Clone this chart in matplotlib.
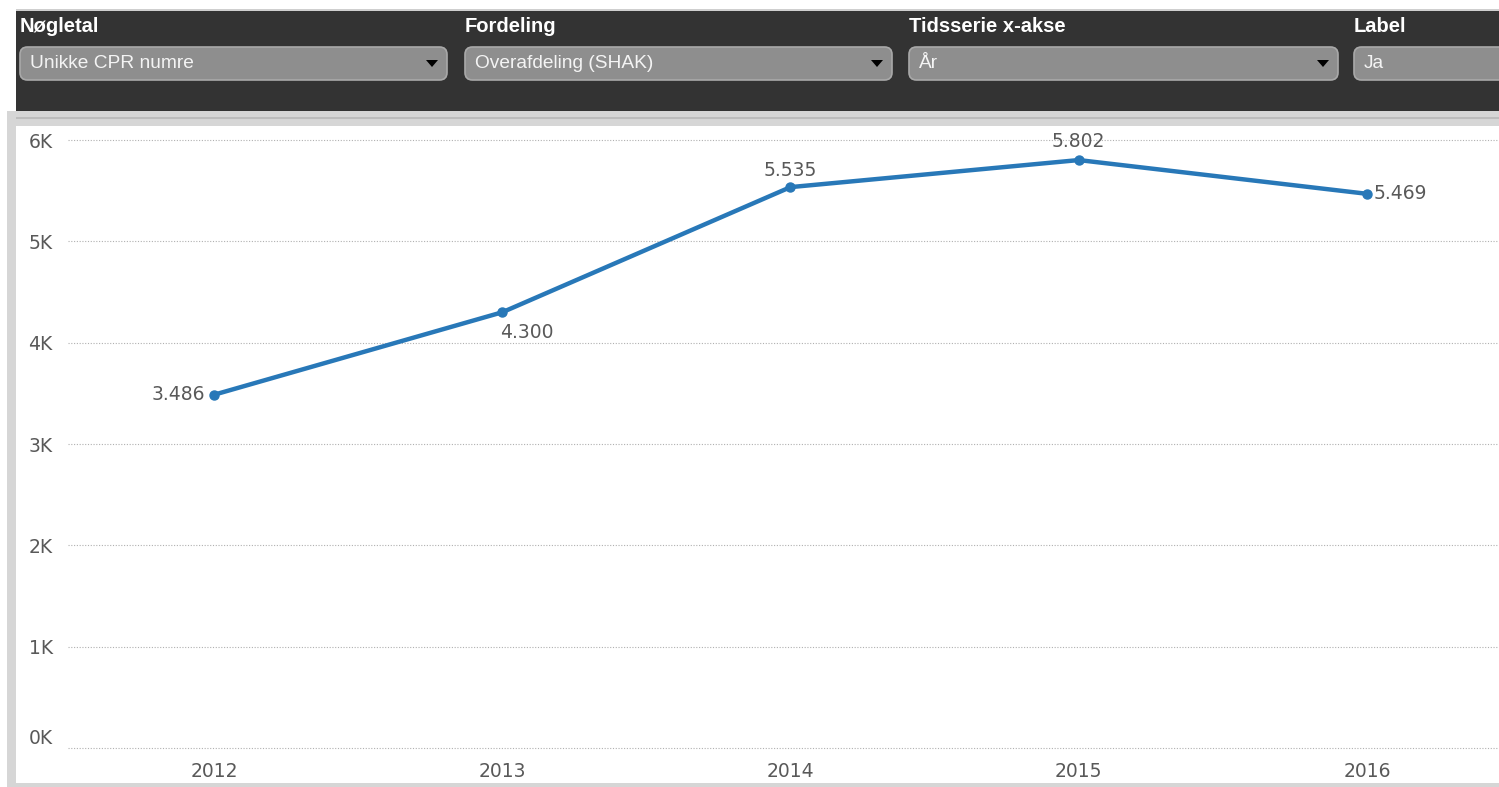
import matplotlib
matplotlib.use("Agg")
import matplotlib.pyplot as plt
from matplotlib.patches import Rectangle, FancyBboxPatch, Polygon
from matplotlib.transforms import ScaledTranslation

# ---- data ----
years = ["2012", "2013", "2014", "2015", "2016"]
values = [3486, 4300, 5535, 5802, 5469]
value_labels = ["3.486", "4.300", "5.535", "5.802", "5.469"]
y_ticks = [0, 1000, 2000, 3000, 4000, 5000, 6000]
y_tick_labels = ["0K", "1K", "2K", "3K", "4K", "5K", "6K"]
filter_titles = ["Nøgletal", "Fordeling", "Tidsserie x-akse", "Label"]
filter_values = ["Unikke CPR numre", "Overafdeling (SHAK)", "År", "Ja"]

W, H = 1499, 787
fig = plt.figure(figsize=(W / 100, H / 100), dpi=100)
fig.patch.set_facecolor("white")


def fx(px):
    return px / W


def fy(py):
    return 1 - py / H


def rect(x0, y0, x1, y1, color, z=0):
    fig.add_artist(Rectangle((fx(x0), fy(y1)), fx(x1) - fx(x0), fy(y0) - fy(y1),
                             transform=fig.transFigure, facecolor=color,
                             edgecolor="none", zorder=z))


# frame / background
rect(7, 111, W, H, "#d6d6d6", 0)
rect(16, 126, W, 783, "white", 1)
rect(16, 117, W, 119, "#bdbdbd", 1)
rect(16, 9, W, 11, "#cfcfcf", 1)
rect(16, 11, W, 111, "#333333", 1)

# filter dropdowns
box_x = [(20, 447), (465, 892), (909, 1338), (1354, 1530)]
for (x0, x1), title, val in zip(box_x, filter_titles, filter_values):
    fig.text(fx(x0), fy(26), title, color="white", fontsize=14.5, fontweight="bold",
             family="Liberation Sans", va="center", ha="left", zorder=3)
    fig.add_artist(FancyBboxPatch((fx(x0), fy(80)), fx(x1) - fx(x0), fy(47) - fy(80),
                                  boxstyle="round,pad=0,rounding_size=0.005",
                                  transform=fig.transFigure, facecolor="#8e8e8e",
                                  edgecolor="#a9a9a9", linewidth=1.2, zorder=2,
                                  mutation_aspect=W / H))
    fig.text(fx(x0 + 10), fy(64), val, color="#f4f4f4", fontsize=13.8,
             family="Liberation Sans", va="center", ha="left", zorder=3)
    if x1 < W:
        cx = x1 - 15
        fig.add_artist(Polygon([(fx(cx - 6), fy(60)), (fx(cx + 6), fy(60)), (fx(cx), fy(67))],
                               closed=True, transform=fig.transFigure,
                               facecolor="black", edgecolor="none", zorder=3))

# chart axes
ax = fig.add_axes([fx(68), fy(748), fx(W) - fx(68), fy(140) - fy(748)], zorder=4)
ax.patch.set_alpha(0)
xs = list(range(len(years)))
ax.plot(xs, values, color="#2878b8", linewidth=3.2, marker="o", markersize=6.5,
        solid_capstyle="round", zorder=5, clip_on=False)
ax.set_xlim(-0.5065, 4.458)
ax.set_ylim(0, 6000)
ax.set_yticks(y_ticks)
ax.set_yticklabels(y_tick_labels)
ax.set_xticks(xs)
ax.set_xticklabels(years)
for s in ax.spines.values():
    s.set_visible(False)
ax.tick_params(axis="both", length=0, labelsize=13.5, labelcolor="#595959")
ax.tick_params(axis="y", pad=11)
ax.tick_params(axis="x", pad=10)
ax.grid(axis="y", color="#b0b0b0", linestyle=(0, (1, 1.5)), linewidth=0.8)
ax.set_axisbelow(True)

fig.canvas.draw()
for gl in ax.get_ygridlines():
    gl.set_clip_on(False)
# lift the 0K label above the baseline, as in the reference
lbl0 = ax.get_yticklabels()[0]
lbl0.set_transform(lbl0.get_transform() + ScaledTranslation(0, 12 / 100, fig.dpi_scale_trans))

# data labels
offsets = [(-9, 0, "right", "center"), (-2, -20, "left", "center"),
           (0, 17, "center", "center"), (0, 19, "center", "center"),
           (7, 0, "left", "center")]
for x, v, lab, (dx, dy, ha, va) in zip(xs, values, value_labels, offsets):
    ax.annotate(lab, (x, v), xytext=(dx * 0.72, dy * 0.72), textcoords="offset points",
                ha=ha, va=va, fontsize=13.5, color="#595959", zorder=6,
                annotation_clip=False)

fig.savefig("out.png", dpi=100, facecolor=fig.get_facecolor())
